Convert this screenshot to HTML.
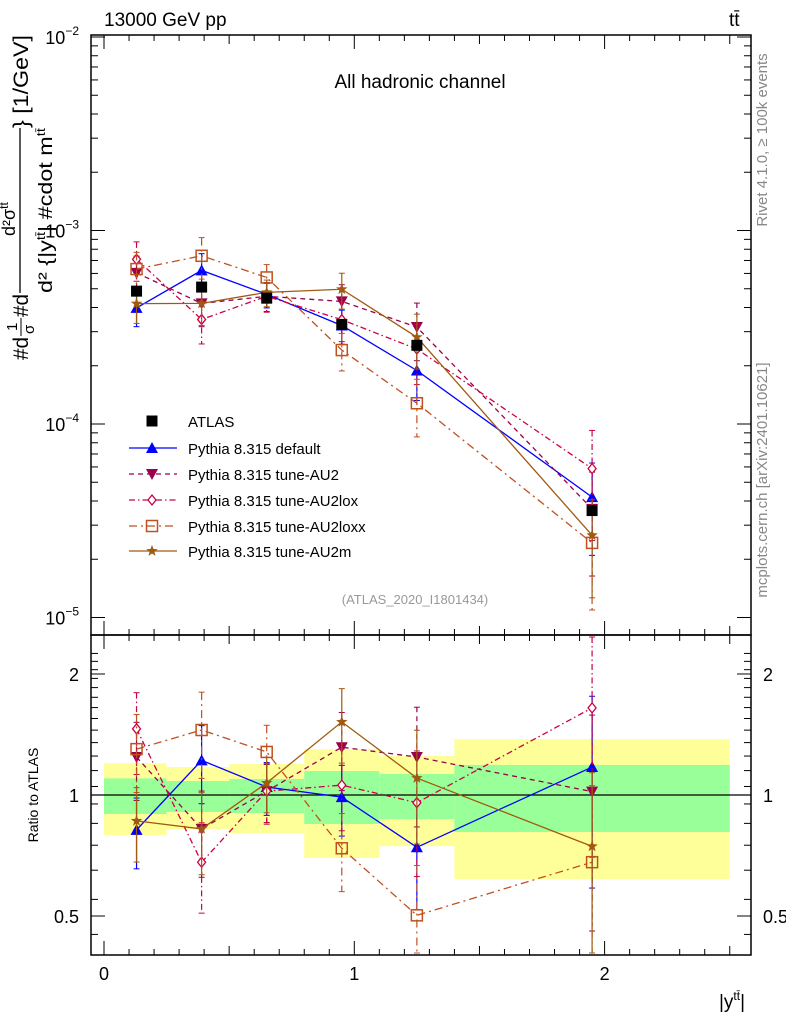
<!DOCTYPE html>
<html><head><meta charset="utf-8"><style>
body{margin:0;background:#fff;}
svg{display:block;font-family:"Liberation Sans",sans-serif;}
</style></head><body>
<svg id="chart" width="786" height="1024" viewBox="0 0 786 1024" xmlns="http://www.w3.org/2000/svg">
<g id="bands"></g>
<g id="marks"></g>
<g id="axes"></g>
<text x="104" y="26" font-size="19">13000 GeV pp</text>
<text x="729" y="26" font-size="19">tt̄</text>
<text x="420" y="88" font-size="19" text-anchor="middle">All hadronic channel</text>
<text x="415" y="604" font-size="13" fill="#999" text-anchor="middle">(ATLAS_2020_I1801434)</text>
<text transform="translate(767,140) rotate(-90)" font-size="15" fill="#888" text-anchor="middle">Rivet 4.1.0, ≥ 100k events</text>
<text transform="translate(767,480) rotate(-90)" font-size="15" fill="#888" text-anchor="middle">mcplots.cern.ch [arXiv:2401.10621]</text>
<g font-size="21">
<text transform="translate(28,360) rotate(-90)" textLength="23" lengthAdjust="spacingAndGlyphs">#d</text>
<text transform="translate(17,331) rotate(-90)" font-size="15">1</text>
<line x1="21" y1="336" x2="21" y2="318" stroke="#000"/>
<text transform="translate(34,334) rotate(-90)" font-size="15">σ</text>
<text transform="translate(28,317) rotate(-90)" textLength="23" lengthAdjust="spacingAndGlyphs">#d</text>
<line x1="20" y1="293" x2="20" y2="128" stroke="#000" stroke-width="1.3"/>
<text transform="translate(15,236) rotate(-90)" font-size="18">d²σ<tspan font-size="12" dy="-7">tt̄</tspan></text>
<text transform="translate(52,293) rotate(-90)" font-size="19" textLength="165" lengthAdjust="spacingAndGlyphs">d² {|y<tspan font-size="12" dy="-7">tt̄</tspan><tspan dy="7">| #cdot m</tspan><tspan font-size="12" dy="-7">tt̄</tspan></text>
<text transform="translate(28,128) rotate(-90)" textLength="93" lengthAdjust="spacingAndGlyphs">} [1/GeV]</text>
</g>
<text transform="translate(38,795) rotate(-90)" font-size="14" text-anchor="middle">Ratio to ATLAS</text>
<text x="745" y="1008" font-size="19" text-anchor="end">|y<tspan font-size="12" dy="-8">tt̄</tspan><tspan dy="8">|</tspan></text>
<g id="legend"></g>
</svg>
<script>
const binEdges=[0,0.25,0.5,0.8,1.1,1.4,2.5];
const xCenters=[0.13,0.39,0.65,0.95,1.25,1.95];
const atlas=[4.86e-4,5.10e-4,4.47e-4,3.27e-4,2.55e-4,3.57e-5];
const bandGreenUp=[1.10,1.083,1.096,1.147,1.128,1.188];
const bandGreenDn=[0.897,0.907,0.902,0.847,0.871,0.809];
const bandYellowUp=[1.20,1.174,1.194,1.30,1.25,1.378];
const bandYellowDn=[0.795,0.823,0.804,0.697,0.746,0.618];
const mcDefault=[3.98e-4,6.22e-4,4.68e-4,3.23e-4,1.89e-4,4.19e-5];
const mcAU2=[6.04e-4,4.20e-4,4.57e-4,4.30e-4,3.17e-4,3.64e-5];
const mcAU2lox=[7.10e-4,3.47e-4,4.57e-4,3.46e-4,2.44e-4,5.88e-5];
const mcAU2loxx=[6.32e-4,7.40e-4,5.72e-4,2.41e-4,1.28e-4,2.43e-5];
const mcAU2m=[4.19e-4,4.20e-4,4.79e-4,4.97e-4,2.81e-4,2.66e-5];
const relErr=[0.2,0.22,0.15,0.2,0.3,0.5];
const xTicks=[0,1,2];
const ratioTicks=[0.5,1,2];
const mainDecades=[-5,-4,-3,-2];

const NS="http://www.w3.org/2000/svg";
const L=91,R=751,T=35,MB=635,RB=955;
const X=v=>104+v*250.3;
const Y=v=>37+(-2-Math.log10(v))*193.5;
const RY=r=>795-402*Math.log10(r);
function mk(tag,attrs,parent){const e=document.createElementNS(NS,tag);for(const k in attrs)e.setAttribute(k,attrs[k]);parent.appendChild(e);return e;}
const bands=document.getElementById('bands'),marks=document.getElementById('marks'),axes=document.getElementById('axes'),legend=document.getElementById('legend');

for(let i=0;i<atlas.length;i++){
 const x1=X(binEdges[i]),x2=X(binEdges[i+1]);
 const y=mk('rect',{x:x1,y:RY(bandYellowUp[i]),width:x2-x1,height:RY(bandYellowDn[i])-RY(bandYellowUp[i]),fill:'#ffff99'},bands);
 
 
 const g=mk('rect',{x:x1,y:RY(bandGreenUp[i]),width:x2-x1,height:RY(bandGreenDn[i])-RY(bandGreenUp[i]),fill:'#99ff99'},bands);
 
 
}
mk('line',{x1:L,x2:R,y1:RY(1),y2:RY(1),stroke:'#000','stroke-width':1.2},bands);

function marker(parent,type,x,y,c){
 if(type==='sq') return mk('rect',{x:x-5.5,y:y-5.5,width:11,height:11,fill:'#000'},parent);
 if(type==='up') return mk('polygon',{points:`${x},${y-6} ${x-6},${y+5} ${x+6},${y+5}`,fill:c},parent);
 if(type==='dn') return mk('polygon',{points:`${x},${y+6} ${x-6},${y-5} ${x+6},${y-5}`,fill:c},parent);
 if(type==='dia') return mk('polygon',{points:`${x},${y-5} ${x-4},${y} ${x},${y+5} ${x+4},${y}`,fill:'#fff',stroke:c,'stroke-width':1.3},parent);
 if(type==='box') return mk('rect',{x:x-5.5,y:y-5.5,width:11,height:11,fill:'none',stroke:c,'stroke-width':1.5},parent);
 if(type==='star'){let p=[];for(let k=0;k<10;k++){const r=k%2?2.5:6,a=-Math.PI/2+k*Math.PI/5;p.push((x+r*Math.cos(a)).toFixed(1)+','+(y+r*Math.sin(a)).toFixed(1));}return mk('polygon',{points:p.join(' '),fill:c},parent);}
}
const series=[
 {name:'default',vals:mcDefault,c:'#0000ff',dash:'',m:'up',lab:'Pythia 8.315 default',ef:1},
 {name:'au2',vals:mcAU2,c:'#99004d',dash:'5,4',m:'dn',lab:'Pythia 8.315 tune-AU2',ef:1.1},
 {name:'au2lox',vals:mcAU2lox,c:'#cc0044',dash:'6,3,1.5,3',m:'dia',lab:'Pythia 8.315 tune-AU2lox',ef:1.15},
 {name:'au2loxx',vals:mcAU2loxx,c:'#c0501e',dash:'8,4,2,4',m:'box',lab:'Pythia 8.315 tune-AU2loxx',ef:1.1},
 {name:'au2m',vals:mcAU2m,c:'#a05a10',dash:'',m:'star',lab:'Pythia 8.315 tune-AU2m',ef:1.05}
];
series.forEach(s=>{
 const g=mk('g',{},marks);
 
 
 const pm=[],pr=[];
 s.vals.forEach((v,i)=>{pm.push(X(xCenters[i])+','+Y(v));pr.push(X(xCenters[i])+','+RY(v/atlas[i]));});
 mk('polyline',{points:pm.join(' '),fill:'none',stroke:s.c,'stroke-width':1.3,'stroke-dasharray':s.dash},g);
 mk('polyline',{points:pr.join(' '),fill:'none',stroke:s.c,'stroke-width':1.3,'stroke-dasharray':s.dash},g);
 s.vals.forEach((v,i)=>{
  const x=X(xCenters[i]),e=Math.min(relErr[i]*s.ef,0.9),r=v/atlas[i];
  const yu=Y(v*(1+e)),yd=Y(v*(1-e));
  mk('line',{x1:x,x2:x,y1:yu,y2:yd,stroke:s.c,'stroke-width':1.2,'stroke-dasharray':s.dash},g);
  mk('line',{x1:x-3,x2:x+3,y1:yu,y2:yu,stroke:s.c},g);mk('line',{x1:x-3,x2:x+3,y1:yd,y2:yd,stroke:s.c},g);
  const ru=Math.max(RY(r*(1+e)),MB+2),rd=Math.min(RY(r*(1-e)),RB-2);
  mk('line',{x1:x,x2:x,y1:ru,y2:rd,stroke:s.c,'stroke-width':1.2,'stroke-dasharray':s.dash},g);
  mk('line',{x1:x-3,x2:x+3,y1:ru,y2:ru,stroke:s.c},g);mk('line',{x1:x-3,x2:x+3,y1:rd,y2:rd,stroke:s.c},g);
  const m1=marker(g,s.m,x,Y(v),s.c);
  
  
  const m2=marker(g,s.m,x,RY(r),s.c);
  
  
 });
});
const ga=mk('g',{},marks);


atlas.forEach((v,i)=>{const m=marker(ga,'sq',X(xCenters[i]),Y(v),'#000');
 
 });

mk('rect',{x:L,y:T,width:R-L,height:MB-T,fill:'none',stroke:'#000','stroke-width':1.5},axes);
mk('rect',{x:L,y:MB,width:R-L,height:RB-MB,fill:'none',stroke:'#000','stroke-width':1.5},axes);
mainDecades.forEach(d=>{
 const y=Y(Math.pow(10,d));
 mk('line',{x1:L,x2:L+14,y1:y,y2:y,stroke:'#000'},axes);mk('line',{x1:R,x2:R-14,y1:y,y2:y,stroke:'#000'},axes);
 const t=mk('text',{x:L-12,y:y+7,'font-size':18,'text-anchor':'end'},axes);t.innerHTML='10<tspan font-size="12" dy="-9">'+(d===-2?'−2':d===-3?'−3':d===-4?'−4':'−5')+'</tspan>';
 
 
 if(d<-2)for(let k=2;k<10;k++){const yy=Y(k*Math.pow(10,d));if(yy<T)continue;
  mk('line',{x1:L,x2:L+7,y1:yy,y2:yy,stroke:'#000'},axes);mk('line',{x1:R,x2:R-7,y1:yy,y2:yy,stroke:'#000'},axes);}
});
ratioTicks.forEach(r=>{const y=RY(r);
 mk('line',{x1:L,x2:L+14,y1:y,y2:y,stroke:'#000'},axes);mk('line',{x1:R,x2:R-14,y1:y,y2:y,stroke:'#000'},axes);
 const t1=mk('text',{x:L-12,y:y+7,'font-size':18,'text-anchor':'end'},axes);t1.textContent=r;
 
 
 const t2=mk('text',{x:R+12,y:y+7,'font-size':18},axes);t2.textContent=r;
 
 });
for(let r=0.45;r<2.35;r+=0.1){const y=RY(r);if(y<MB||y>RB)continue;
 mk('line',{x1:L,x2:L+7,y1:y,y2:y,stroke:'#000'},axes);mk('line',{x1:R,x2:R-7,y1:y,y2:y,stroke:'#000'},axes);}
for(let v=0;v<=2.55;v+=0.1){const x=X(v);if(x>R)continue;const major=Math.abs(v-Math.round(v))<1e-6;const len=major?14:(Math.abs(v*2-Math.round(v*2))<1e-6?9:6);
 [T,MB].forEach(y=>mk('line',{x1:x,x2:x,y1:y,y2:y+len,stroke:'#000'},axes));
 [MB,RB].forEach(y=>mk('line',{x1:x,x2:x,y1:y,y2:y-len,stroke:'#000'},axes));}
xTicks.forEach(v=>{const t=mk('text',{x:X(v),y:980,'font-size':18,'text-anchor':'middle'},axes);t.textContent=v;
 
 });

const legY=[421,448,474,500,526,551];
const le=mk('g',{},legend);


marker(le,'sq',152,legY[0],'#000');
mk('text',{x:188,y:legY[0]+6,'font-size':15},le).textContent='ATLAS';
series.forEach((s,i)=>{const g=mk('g',{},legend);
 
 
 const y=legY[i+1];
 mk('line',{x1:129,x2:177,y1:y,y2:y,stroke:s.c,'stroke-width':1.3,'stroke-dasharray':s.dash},g);
 marker(g,s.m,152,y,s.c);
 mk('text',{x:188,y:y+6,'font-size':15},g).textContent=s.lab;});
</script>
</body></html>
